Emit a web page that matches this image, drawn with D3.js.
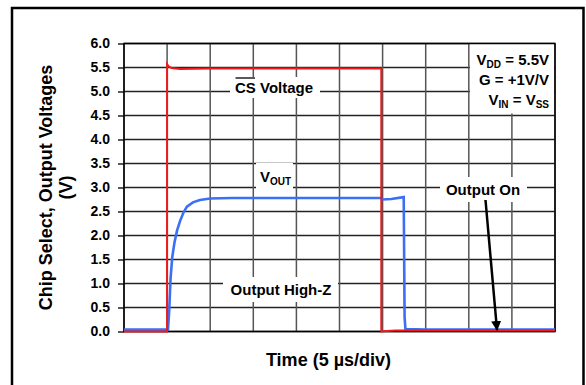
<!DOCTYPE html>
<html>
<head>
<meta charset="utf-8">
<script src="https://cdn.jsdelivr.net/npm/d3@7"></script>
<style>
  body { margin: 0; background: #fff; }
  svg text { font-family: "Liberation Sans", Arial, sans-serif; font-weight: bold; fill: #000; }
</style>
</head>
<body>
<svg id="chart" width="586" height="385"></svg>
<script>
// ---- data (time in divisions of 5 µs, voltage in V) ----
const yTicks = [0.0, 0.5, 1.0, 1.5, 2.0, 2.5, 3.0, 3.5, 4.0, 4.5, 5.0, 5.5, 6.0];
const xDivs = [0, 1, 2, 3, 4, 5, 6, 7, 8, 9, 10];

const csTime =    [0,    1.0,  1.0,  1.03, 1.1,  1.3,  2.0,  3.0,  4.0,  5.0,  5.97, 5.97, 6.1,  6.3,  8.0,  10];
const csVoltage = [0.0,  0.0,  5.57, 5.53, 5.49, 5.47, 5.48, 5.48, 5.48, 5.48, 5.48, 0.0,  0.01, 0.02, 0.02, 0.02];

const voutTime =  [0,    0.5,  1.02, 1.05, 1.08, 1.12, 1.17, 1.23, 1.30, 1.38, 1.46, 1.60, 1.76, 2.0,  2.5,  3.5,  4.5,  5.5,  5.96, 6.0,  6.2,  6.49, 6.51, 6.53, 7.0,  8.0,  9.0,  10];
const voutVolt =  [0.04, 0.04, 0.04, 0.45, 1.1,  1.55, 1.85, 2.1,  2.3,  2.48, 2.6,  2.69, 2.74, 2.77, 2.78, 2.78, 2.78, 2.78, 2.78, 2.75, 2.76, 2.80, 0.3,  0.05, 0.04, 0.04, 0.04, 0.04];

const xTitle = "Time (5 µs/div)";
const yTitle = ["Chip Select, Output Voltages", "(V)"];

// ---- layout ----
const svg = d3.select("#chart");
const L = 124, R = 555, T = 43.5, B = 331.5;
const x = d3.scaleLinear().domain([0, 10]).range([L, R]);
const y = d3.scaleLinear().domain([0, 6]).range([B, T]);

// outer border
svg.append("rect").attr("x", 12).attr("y", 8).attr("width", 571.5).attr("height", 385)
  .attr("fill", "none").attr("stroke", "#000").attr("stroke-width", 2.5);

// grid
const grid = svg.append("g");
grid.selectAll("line.h").data(yTicks).join("line")
  .attr("x1", L).attr("x2", R).attr("y1", d => y(d)).attr("y2", d => y(d))
  .attr("stroke", "#222").attr("stroke-width", 1.3);
grid.selectAll("line.v").data(xDivs).join("line")
  .attr("y1", T).attr("y2", B).attr("x1", d => x(d)).attr("x2", d => x(d))
  .attr("stroke", "#555").attr("stroke-width", 1.5);

// y axis with ticks
const yAxis = d3.axisLeft(y).tickValues(yTicks).tickFormat(d3.format(".1f")).tickSize(6).tickPadding(8);
const ya = svg.append("g").attr("transform", `translate(${L},0)`).call(yAxis);
ya.select(".domain").remove();
ya.selectAll(".tick line").attr("stroke", "#000").attr("stroke-width", 1.3);
ya.selectAll(".tick text").style("font-size", "14px").style("font-family", "Liberation Sans, Arial, sans-serif").style("font-weight", "bold").attr("fill", "#000");

// label background boxes (break the grid)
const boxes = [
  [230, 77, 90, 21],    // CS Voltage
  [256, 163, 37, 30],   // VOUT
  [470, 43.5, 84, 70],  // conditions
  [440, 177, 87, 25],   // Output On
  [223, 277, 115, 25]   // Output High-Z
];
svg.selectAll("rect.bg").data(boxes).join("rect")
  .attr("x", d => d[0]).attr("y", d => d[1]).attr("width", d => d[2]).attr("height", d => d[3])
  .attr("fill", "#fff");

// plot frame
svg.append("rect").attr("x", L).attr("y", T).attr("width", R - L).attr("height", B - T)
  .attr("fill", "none").attr("stroke", "#000").attr("stroke-width", 1.5);

// data lines
const line = d3.line().x(d => x(d[0])).y(d => y(d[1]));
svg.append("path").datum(voutTime.map((t, i) => [t, voutVolt[i]]))
  .attr("d", line).attr("fill", "none").attr("stroke", "#3b6ff5").attr("stroke-width", 2.6);
svg.append("path").datum(csTime.map((t, i) => [t, csVoltage[i]]))
  .attr("d", line).attr("fill", "none").attr("stroke", "#f01818").attr("stroke-width", 2);

// annotations
const cs = svg.append("text").attr("x", 235).attr("y", 93).style("font-size", "15px");
cs.append("tspan").text("CS");
cs.append("tspan").text(" Voltage");
svg.append("line").attr("x1", 235.5).attr("x2", 255).attr("y1", 78).attr("y2", 78)
  .attr("stroke", "#000").attr("stroke-width", 1.3);

const vo = svg.append("text").attr("x", 260).attr("y", 182).style("font-size", "15px");
vo.append("tspan").text("V");
vo.append("tspan").attr("dy", 3).style("font-size", "10px").text("OUT");

function condLine(yy, parts) {
  const t = svg.append("text").attr("x", 549).attr("y", yy).attr("text-anchor", "end").style("font-size", "15px");
  parts.forEach(p => {
    const s = t.append("tspan").text(p[0]);
    if (p[1]) s.style("font-size", "10px").attr("dy", 3);
    else if (p[2]) s.attr("dy", -3);
  });
}
condLine(65, [["V"], ["DD", true], [" = 5.5V", false, true]]);
condLine(85, [["G = +1V/V"]]);
condLine(105, [["V"], ["IN", true], [" = V", false, true], ["SS", true]]);

svg.append("text").attr("x", 483).attr("y", 195).attr("text-anchor", "middle").style("font-size", "15px").text("Output On");
svg.append("text").attr("x", 281).attr("y", 295).attr("text-anchor", "middle").style("font-size", "15px").text("Output High-Z");

// arrow
svg.append("defs").append("marker").attr("id", "ah").attr("viewBox", "0 0 10 10")
  .attr("refX", 9).attr("refY", 5).attr("markerWidth", 4).attr("markerHeight", 4).attr("orient", "auto")
  .append("path").attr("d", "M0,0 L10,5 L0,10 z").attr("fill", "#000");
svg.append("line").attr("x1", 485.5).attr("y1", 200).attr("x2", 497).attr("y2", 330)
  .attr("stroke", "#000").attr("stroke-width", 2.5).attr("marker-end", "url(#ah)");

// axis titles
svg.append("text").attr("x", (L + R) / 2 - 11).attr("y", 366).attr("text-anchor", "middle")
  .style("font-size", "18px").text(xTitle);
const yt = svg.append("text").attr("transform", `translate(52,${(T + B) / 2}) rotate(-90)`)
  .attr("text-anchor", "middle").style("font-size", "18px");
yt.append("tspan").attr("x", 0).attr("y", 0).text(yTitle[0]);
yt.append("tspan").attr("x", 0).attr("y", 20).text(yTitle[1]);
</script>
</body>
</html>
